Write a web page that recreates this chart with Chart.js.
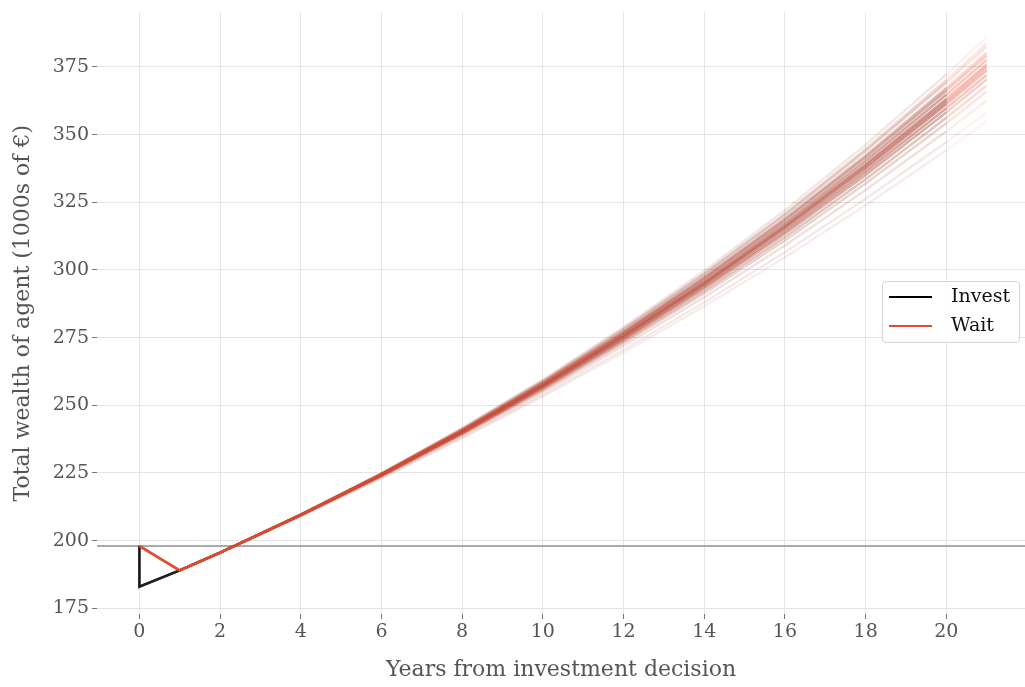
<!DOCTYPE html>
<html>
<head>
<meta charset="utf-8">
<title>Total wealth of agent</title>
<script src="https://cdn.jsdelivr.net/npm/chart.js@4.4.1/dist/chart.umd.min.js"></script>
<style>
    html, body { margin: 0; padding: 0; background: #fff; overflow: hidden; }
    #wrap { position: relative; width: 1025px; height: 687px; }
    #legend {
        position: absolute; left: 882px; top: 281px; width: 138px; height: 62px;
        box-sizing: border-box; border: 1px solid #d4d4d4; border-radius: 4px;
        background: rgba(255, 255, 255, 0.85);
        font-family: 'DejaVu Serif', serif; font-size: 19px; color: #111;
    }
    .item { position: absolute; left: 0; height: 24px; width: 100%; }
    .item .swatch { position: absolute; left: 6px; top: 11px; width: 43px; height: 2px; }
    .item .label { position: absolute; left: 68px; top: -2px; line-height: 24px; }
</style>
</head>
<body>
<div id="wrap">
    <canvas id="chart" width="1025" height="687"></canvas>
    <div id="legend"></div>
</div>
<script>
// --- data ---
const seriesNames = ['Invest', 'Wait'];
const investYears = [0, 0, 1, 2, 4, 6, 8, 10, 12, 14, 16, 18, 20];
const waitYears = [0, 1, 2, 4, 6, 8, 10, 12, 14, 16, 18, 20, 21];
const investStart = [198, 183, 189];
const waitStart = [198, 189];
const referenceWealth = 198;

// simulated wealth paths, years 2..20
const paths = [
    [195.6, 209.7, 225.0, 241.6, 259.5, 278.9, 299.7, 322.1, 346.3, 372.2],
    [195.6, 209.7, 224.9, 241.4, 259.1, 278.3, 298.8, 320.9, 344.7, 370.2],
    [195.6, 209.7, 224.8, 241.2, 258.8, 277.9, 298.3, 320.2, 343.9, 369.2],
    [195.6, 209.6, 224.7, 240.9, 258.4, 277.2, 297.4, 319.0, 342.3, 367.2],
    [195.6, 209.6, 224.6, 240.8, 258.2, 276.9, 296.9, 318.4, 341.5, 366.2],
    [195.6, 209.5, 224.5, 240.6, 257.8, 276.4, 296.2, 317.4, 340.3, 364.7],
    [195.6, 209.5, 224.4, 240.4, 257.5, 275.9, 295.5, 316.5, 339.1, 363.2],
    [195.6, 209.5, 224.3, 240.3, 257.3, 275.6, 295.0, 315.9, 338.3, 362.2],
    [195.6, 209.5, 224.3, 240.1, 257.1, 275.2, 294.6, 315.3, 337.5, 361.2],
    [195.6, 209.4, 224.2, 239.9, 256.7, 274.7, 293.9, 314.3, 336.3, 359.7],
    [195.6, 209.4, 224.1, 239.7, 256.4, 274.2, 293.2, 313.4, 335.1, 358.2],
    [195.6, 209.3, 223.9, 239.4, 255.9, 273.6, 292.2, 312.1, 333.5, 356.2],
    [195.6, 209.3, 223.8, 239.2, 255.5, 272.9, 291.3, 310.9, 331.9, 354.2],
    [195.6, 209.2, 223.6, 238.8, 254.8, 271.9, 289.9, 309.0, 329.5, 351.2],
    [195.6, 209.1, 223.3, 238.2, 253.9, 270.5, 288.0, 306.5, 326.3, 347.2],
    [195.5, 209.0, 223.1, 237.8, 253.2, 269.5, 286.6, 304.7, 323.9, 344.2]
];
// wait paths at year 21
const waitFinal = [385.9, 383.7, 382.5, 380.3, 379.2, 377.6, 375.9, 374.8,
                   373.7, 372.0, 370.4, 368.1, 365.9, 362.6, 358.2, 354.9];

const xTicks = [0, 2, 4, 6, 8, 10, 12, 14, 16, 18, 20];
const yTicks = [175, 200, 225, 250, 275, 300, 325, 350, 375];

// --- styles ---
const X_MIN = -1.05, X_MAX = 21.95;
const Y_MIN = 172.9, Y_MAX = 395.1;
const colors = ['#000000', '#E24A33'];
// opacity per path: paths in the dense middle of the fan are stronger
const pathAlpha = [0.08, 0.12, 0.16, 0.22, 0.28, 0.32, 0.35, 0.35,
                   0.35, 0.32, 0.28, 0.2, 0.14, 0.1, 0.07, 0.06];
const fontFamily = "'DejaVu Serif', serif";

const toPoints = (xs, ys) => xs.map((x, i) => ({ x: x, y: ys[i] }));

const datasets = [];
paths.forEach((p, i) => {
    datasets.push({
        label: seriesNames[0],
        data: toPoints(investYears, investStart.concat(p)),
        borderColor: 'rgba(0, 0, 0, ' + (pathAlpha[i] * 0.6) + ')',
        borderWidth: 2.4,
        pointRadius: 0,
        order: 2
    });
    datasets.push({
        label: seriesNames[1],
        data: toPoints(waitYears, waitStart.concat(p, [waitFinal[i]])),
        borderColor: 'rgba(226, 74, 51, ' + pathAlpha[i] + ')',
        borderWidth: 2.4,
        pointRadius: 0,
        order: 1
    });
});
datasets.push({
    label: 'reference',
    data: [{ x: X_MIN, y: referenceWealth }, { x: X_MAX, y: referenceWealth }],
    borderColor: '#aaaaaa',
    borderWidth: 2,
    pointRadius: 0,
    order: 3
});

const tickFont = { family: fontFamily, size: 19, lineHeight: 1 };
const titleFont = { family: fontFamily, size: 22 };

new Chart(document.getElementById('chart').getContext('2d'), {
    type: 'line',
    data: { datasets: datasets },
    options: {
        responsive: false,
        animation: false,
        layout: { padding: { top: 10, right: 0, left: 0, bottom: 0 } },
        plugins: {
            legend: { display: false },
            tooltip: { enabled: false }
        },
        scales: {
            x: {
                type: 'linear',
                min: X_MIN,
                max: X_MAX,
                afterBuildTicks: (scale) => { scale.ticks = xTicks.map(v => ({ value: v })); },
                afterFit: (scale) => { scale.height = 73; },
                grid: { color: '#e5e5e5', tickColor: '#777', tickLength: 5 },
                border: { display: false },
                ticks: { font: tickFont, color: '#555', padding: 4, maxRotation: 0 },
                title: { display: true, text: 'Years from investment decision', font: titleFont, color: '#555', padding: { top: 8 } }
            },
            y: {
                type: 'linear',
                min: Y_MIN,
                max: Y_MAX,
                afterBuildTicks: (scale) => { scale.ticks = yTicks.map(v => ({ value: v })); },
                afterFit: (scale) => { scale.width = 97; },
                grid: { color: '#e5e5e5', tickColor: '#777', tickLength: 5 },
                border: { display: false },
                ticks: { font: tickFont, color: '#555', padding: 3 },
                title: { display: true, text: 'Total wealth of agent (1000s of €)', font: titleFont, color: '#555', padding: { top: 10, bottom: 0 } }
            }
        }
    }
});

// --- legend ---
const legend = document.getElementById('legend');
seriesNames.forEach((name, i) => {
    const item = document.createElement('div');
    item.className = 'item';
    item.style.top = (3 + i * 29) + 'px';
    item.innerHTML = '<span class="swatch" style="background:' + colors[i] + '"></span><span class="label">' + name + '</span>';
    legend.appendChild(item);
});
</script>
</body>
</html>
